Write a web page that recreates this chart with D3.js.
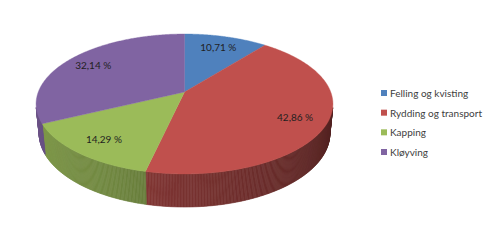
<!DOCTYPE html>
<html>
<head>
<meta charset="utf-8">
<script src="https://cdn.jsdelivr.net/npm/d3@7"></script>
<style>
  html, body { margin: 0; padding: 0; background: #fff; }
  svg { display: block; }
</style>
</head>
<body>
<div id="chart"></div>
<script>
// Chart data
const categories = ['Felling og kvisting', 'Rydding og transport', 'Kapping', 'Kløyving'];
const values = [10.71, 42.86, 14.29, 32.14];
const colors = ['#4F81BD', '#C0504D', '#9BBB59', '#8064A2'];

const width = 490, height = 249;

const svg = d3.select('#chart')
  .append('svg')
  .attr('width', width)
  .attr('height', height);

// Perspective camera for the tilted pie (fitted to the picture)
const cam = { cx: 184.5, cy: 92, F: 756, D: 5.17, se: 0.4644, ce: 0.8856 };
const depth = 0.23; // cylinder height, in radius units

// angle a: 0 at the back (top of the picture), clockwise
const project = (a, r, y) => {
  const X = r * Math.sin(a);
  const Z = -r * Math.cos(a);
  const den = cam.D - Z * cam.ce - y * cam.se;
  return [cam.cx + cam.F * X / den, cam.cy - cam.F * (y * cam.ce - Z * cam.se) / den];
};

// side is seen where the outward normal faces the camera
const visLimit = Math.acos(-1 / (cam.D * cam.ce));
const visStart = visLimit, visEnd = 2 * Math.PI - visLimit;

const pie = d3.pie().sort(null).startAngle(0).endAngle(2 * Math.PI);
const arcs = pie(values);

const step = Math.PI / 360;

// Shading of the side wall: darker on the right, lighter on the left
const shadeScale = d3.scaleLinear()
  .domain([100, 185, 205, 260].map(d => d * Math.PI / 180))
  .range([0.41, 0.64, 0.72, 0.84])
  .clamp(true);

const shade = (color, a) => {
  const c = d3.rgb(color);
  const f = shadeScale(a);
  return d3.rgb(c.r * f, c.g * f, c.b * f).formatHex();
};

const sides = svg.append('g');
const tops = svg.append('g');

arcs.forEach((d, i) => {
  // side wall
  const s = Math.max(d.startAngle, visStart);
  const e = Math.min(d.endAngle, visEnd);
  for (let a = s; a < e - 1e-9; a += step) {
    const a2 = Math.min(a + step, e);
    const p = d3.path();
    const t1 = project(a, 1, 0), t2 = project(a2, 1, 0);
    const b2 = project(a2, 1, -depth), b1 = project(a, 1, -depth);
    p.moveTo(t1[0], t1[1]);
    p.lineTo(t2[0], t2[1]);
    p.lineTo(b2[0], b2[1]);
    p.lineTo(b1[0], b1[1]);
    p.closePath();
    const col = shade(colors[i], (a + a2) / 2);
    sides.append('path')
      .attr('d', p.toString())
      .attr('fill', col)
      .attr('stroke', col)
      .attr('stroke-width', 0.6);
  }

  // top face
  const p = d3.path();
  const c = project(0, 0, 0);
  p.moveTo(c[0], c[1]);
  for (let a = d.startAngle; a < d.endAngle; a += step) {
    const q = project(a, 1, 0);
    p.lineTo(q[0], q[1]);
  }
  const q = project(d.endAngle, 1, 0);
  p.lineTo(q[0], q[1]);
  p.closePath();
  tops.append('path')
    .attr('d', p.toString())
    .attr('fill', colors[i])
    .attr('stroke', colors[i])
    .attr('stroke-width', 0.4);
});

// Data labels
const nb = d3.formatLocale({ decimal: ',', thousands: ' ', grouping: [3], currency: ['', ' kr'] });
const fmt = nb.format('.2f');

svg.append('g')
  .selectAll('text')
  .data(arcs)
  .join('text')
  .attr('x', d => project((d.startAngle + d.endAngle) / 2, 0.79, 0)[0])
  .attr('y', d => project((d.startAngle + d.endAngle) / 2, 0.79, 0)[1])
  .attr('text-anchor', 'middle')
  .attr('dominant-baseline', 'central')
  .attr('font-family', 'Lato, "Open Sans", sans-serif')
  .attr('font-size', 10)
  .attr('fill', '#1f1f1f')
  .text(d => `${fmt(d.data)} %`);

// Legend
const legendY = d3.scalePoint().domain(categories).range([93, 152]);

const legend = svg.append('g')
  .selectAll('g')
  .data(categories)
  .join('g')
  .attr('transform', d => `translate(381, ${legendY(d)})`);

legend.append('rect')
  .attr('x', 0)
  .attr('y', -3)
  .attr('width', 6)
  .attr('height', 6)
  .attr('fill', (d, i) => colors[i]);

legend.append('text')
  .attr('x', 9)
  .attr('y', 0)
  .attr('dominant-baseline', 'central')
  .attr('font-family', 'Lato, "Open Sans", sans-serif')
  .attr('font-size', 10)
  .attr('fill', '#404040')
  .text(d => d);
</script>
</body>
</html>
